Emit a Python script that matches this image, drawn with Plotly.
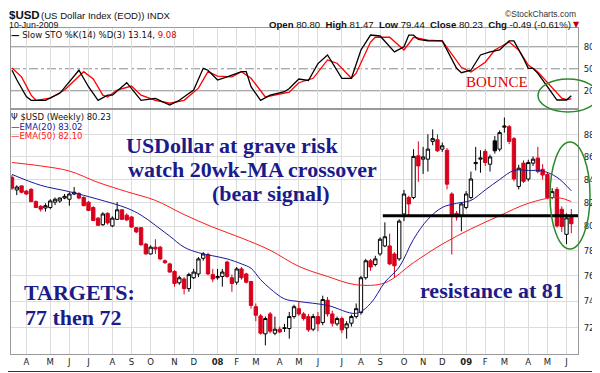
import plotly.graph_objects as go
import pandas as pd
import math

# ---------------- data (weekly $USD) ----------------
week_start = "2007-03-12"
n_weeks = 118

opens = [84.2, 83.1, 83.45, 83.0, 83.15, 82.1, 81.7, 81.55, 81.6, 82.05,
         82.15, 82.4, 82.3, 82.75, 82.8, 82.45, 82.05, 81.6, 80.7, 80.15,
         81.1, 80.05, 80.6, 81.4, 80.95, 80.8, 79.9, 79.9, 78.55, 77.75,
         78.3, 78.3, 77.2, 76.95, 76.35, 75.45, 75.75, 75.0, 75.85, 76.15,
         77.4, 77.7, 76.1, 75.85, 75.95, 77.1, 75.85, 75.5, 76.55, 76.15,
         75.55, 73.6, 72.9, 71.55, 73.05, 71.6, 71.9, 71.95, 71.95, 72.85,
         73.45, 73.05, 72.85, 71.9, 72.85, 72.4, 74.1, 73.05, 72.3, 72.7,
         72.0, 72.35, 72.85, 73.15, 75.85, 77.2, 76.9, 77.75, 78.4, 78.4,
         77.75, 77.35, 81.05, 82.45, 82.45, 86.1, 85.8, 85.8, 87.4, 87.55,
         86.7, 86.6, 82.75, 81.1, 80.9, 81.6, 82.45, 85.4, 85.8, 86.5,
         85.35, 87.45, 86.7, 88.7, 88.75, 87.65, 83.4, 85.45, 84.05, 85.45,
         85.9, 84.9, 84.45, 82.45, 83.15, 81.45, 79.35, 80.80]
highs = [84.4, 83.5, 83.5, 83.1, 83.25, 82.2, 81.8, 81.95, 82.3, 82.45,
         82.45, 82.75, 82.9, 83.35, 82.9, 82.55, 82.15, 81.7, 80.8, 81.2,
         81.2, 80.85, 82.05, 81.45, 81.1, 80.85, 79.95, 79.95, 78.65, 78.45,
         78.95, 78.4, 77.3, 77.05, 76.45, 76.0, 75.9, 76.25, 76.55, 77.5,
         77.9, 77.85, 76.55, 76.55, 76.55, 77.2, 76.1, 76.7, 76.7, 76.25,
         75.6, 73.85, 73.05, 72.85, 73.2, 72.85, 72.1, 72.3, 73.2, 73.75,
         73.95, 73.2, 73.05, 73.05, 73.2, 74.45, 74.35, 73.3, 72.85, 72.85,
         72.5, 73.0, 73.85, 76.0, 77.35, 77.35, 77.6, 79.1, 80.35, 79.4,
         77.9, 80.6, 83.1, 82.6, 86.7, 87.4, 86.9, 88.05, 88.5, 88.05,
         87.3, 86.8, 82.9, 81.3, 82.05, 83.0, 84.7, 86.9, 86.6, 86.7,
         86.2, 87.9, 88.4, 89.6, 88.9, 87.8, 85.3, 85.7, 85.75, 86.05,
         86.9, 85.35, 84.6, 83.25, 83.35, 81.7, 81.1, 81.47]
lows = [83.1, 82.65, 82.8, 82.65, 82.05, 81.55, 81.25, 81.25, 81.45, 81.8,
        82.0, 82.3, 81.75, 82.65, 82.3, 81.7, 81.3, 80.45, 80.05, 80.05,
        80.15, 79.95, 80.55, 80.55, 80.45, 79.9, 79.45, 78.4, 77.7, 77.7,
        77.75, 77.25, 76.95, 76.25, 75.15, 75.3, 74.55, 74.75, 75.75, 75.9,
        77.2, 76.05, 75.5, 75.7, 75.15, 75.85, 74.75, 75.3, 75.7, 75.4,
        73.45, 72.5, 71.5, 70.7, 71.6, 71.45, 71.6, 71.7, 71.2, 72.7,
        72.9, 72.55, 71.7, 71.75, 71.75, 72.2, 72.85, 72.1, 72.15, 71.6,
        71.2, 72.1, 72.7, 73.0, 75.7, 76.4, 76.75, 77.6, 78.3, 76.85,
        75.85, 77.2, 80.45, 80.8, 82.3, 83.8, 84.5, 84.7, 87.05, 86.45,
        86.45, 83.15, 77.7, 80.5, 79.6, 81.45, 82.3, 84.8, 84.6, 85.2,
        84.7, 86.3, 86.5, 88.2, 87.15, 83.85, 83.15, 83.7, 83.85, 85.2,
        84.55, 84.0, 82.3, 82.3, 79.9, 79.55, 78.55, 79.44]
closes = [83.25, 83.35, 82.9, 82.75, 82.1, 81.6, 81.45, 81.75, 82.15, 82.3,
          82.4, 82.55, 82.75, 82.9, 82.4, 81.75, 81.35, 80.5, 80.1, 81.05,
          80.3, 80.7, 81.4, 80.6, 80.55, 79.95, 79.55, 78.5, 77.75, 78.3,
          78.15, 77.35, 77.05, 76.3, 75.4, 75.85, 75.0, 76.1, 76.3, 77.35,
          77.75, 76.15, 75.75, 75.95, 76.3, 75.95, 75.4, 76.55, 75.85, 75.5,
          73.7, 72.95, 71.6, 72.7, 71.75, 71.9, 71.7, 72.0, 72.85, 73.6,
          73.05, 72.7, 71.85, 72.85, 72.3, 74.15, 73.05, 72.35, 72.7, 71.85,
          72.3, 72.85, 73.45, 75.85, 77.2, 76.7, 77.35, 78.95, 79.15, 76.95,
          76.8, 80.45, 82.75, 81.9, 86.05, 85.2, 86.0, 86.7, 87.65, 86.55,
          87.0, 83.6, 80.95, 80.8, 81.9, 82.75, 84.05, 85.5, 85.9, 85.5,
          86.0, 86.55, 88.2, 88.8, 87.4, 84.05, 85.0, 83.85, 85.5, 85.8,
          84.7, 84.4, 82.45, 82.95, 80.05, 80.0, 80.72, 80.23]

ema20_week = [0, 6, 12, 18, 24, 27, 30, 33, 36, 39, 42, 45, 48, 50, 52, 54, 57, 60,
              66, 72, 75, 78, 81, 84, 87, 90, 93, 96, 99, 102, 105, 108, 111, 114, 117]
ema20_vals = [84.45, 83.5, 82.95, 82.3, 81.55, 80.95, 80.1, 79.2, 78.3, 77.85, 77.6,
              77.35, 76.95, 76.6, 75.7, 75.0, 74.2, 74.0, 73.7, 73.1, 73.85, 75.5,
              76.7, 78.95, 80.6, 81.6, 81.95, 82.2, 83.1, 84.0, 84.8, 84.8, 84.75,
              84.2, 83.02]
ema50_week = [0, 6, 12, 18, 24, 30, 36, 42, 48, 54, 60, 66, 72, 78, 84, 90, 96, 102,
              108, 114, 117]
ema50_vals = [85.5, 85.2, 84.75, 83.75, 82.95, 82.2, 81.0, 79.95, 79.05, 78.05, 76.75,
              75.95, 75.3, 75.45, 77.05, 78.55, 79.8, 80.9, 81.95, 82.45, 82.1]

stoK_week = [0, 1, 3, 4, 7, 10, 14, 16, 18, 20, 21, 24, 27, 30, 33, 35, 38, 40, 41, 43,
             45, 48, 49, 50, 52, 54, 57, 58, 60, 62, 64, 66, 69, 71, 73, 75, 77, 80, 82,
             83, 84, 85, 87, 90, 93, 94, 96, 98, 100, 102, 104, 105, 107, 108, 109, 110,
             112, 114, 116, 117]
stoK_vals = [48, 35, 12, 7, 7, 16.5, 48, 25.5, 7, 14, 14, 31, 7, 9.7, 0.5, 7, 21, 50.6,
             48, 34.6, 39, 46, 46, 25.5, 7, 14, 18.7, 23, 36, 34, 57, 68.8, 37, 37,
             75.6, 96, 94.7, 73, 80, 96, 96, 90, 88, 88, 50.6, 44.6, 48, 68.8, 73,
             75.6, 88, 88, 64, 50.6, 50.6, 43.8, 25.5, 7.4, 7.4, 13.14]
stoD_week = [0, 2, 4, 5, 8, 11, 15, 17, 19, 20, 22, 25, 27, 30, 33, 36, 39, 41, 43, 46,
             48, 50, 53, 55, 58, 60, 63, 66, 68, 71, 72, 75, 76, 79, 82, 84, 87, 90, 94,
             96, 99, 101, 104, 106, 108, 110, 113, 115, 116, 117]
stoD_vals = [51, 39, 14, 7, 10, 21, 46, 36, 14, 11.5, 21, 26.5, 14, 7, 3, 7, 23.5, 46,
             40, 39, 46, 37, 11.5, 14, 18, 31, 37, 62, 57.6, 37, 44, 86.5, 93, 93, 75.6,
             93, 89, 88, 52, 45.5, 59, 75.6, 86.5, 75.6, 55, 45.5, 25, 10, 8, 9.08]

resistance_level = 80.9
resistance_from_week = 78

y_ticks = [72, 74, 76, 78, 80, 82, 84, 86, 88]
sto_ticks = [20, 50, 80]
month_labels = ["A", "M", "J", "J", "A", "S", "O", "N", "D", "<b>08</b>", "F", "M", "A",
                "M", "J", "J", "A", "S", "O", "N", "D", "<b>09</b>", "F", "M", "A", "M", "J"]

# ---------------- build ----------------
dates = list(pd.date_range(week_start, periods=n_weeks, freq="7D"))

month_pos = []
seen = set()
for d in dates:
    key = (d.year, d.month)
    if key not in seen:
        seen.add(key)
        if d >= pd.Timestamp("2007-04-01"):
            month_pos.append(d)
month_pos = month_pos[:len(month_labels)]

red_i, blk_i = [], []
for i in range(n_weeks):
    if i == 0 or closes[i] < closes[i - 1]:
        red_i.append(i)
    else:
        blk_i.append(i)

RED = "#d9001b"
NAVY = "#1b1b8a"
GRID = "#dcdcdc"


def candle(idx, col):
    return go.Candlestick(
        x=[dates[i] for i in idx], open=[opens[i] for i in idx],
        high=[highs[i] for i in idx], low=[lows[i] for i in idx],
        close=[closes[i] for i in idx],
        increasing=dict(line=dict(color=col, width=1), fillcolor="white"),
        decreasing=dict(line=dict(color=col, width=1), fillcolor=col),
        whiskerwidth=0, showlegend=False, hoverinfo="skip",
        xaxis="x", yaxis="y")


fig = go.Figure()
fig.add_trace(go.Scatter(x=[dates[i] for i in ema50_week], y=ema50_vals, mode="lines",
                         line=dict(color="#ff1a1a", width=1, shape="spline"),
                         showlegend=False, hoverinfo="skip", xaxis="x", yaxis="y"))
fig.add_trace(go.Scatter(x=[dates[i] for i in ema20_week], y=ema20_vals, mode="lines",
                         line=dict(color="#1a1a99", width=1, shape="spline"),
                         showlegend=False, hoverinfo="skip", xaxis="x", yaxis="y"))
fig.add_trace(candle(blk_i, "#000000"))
fig.add_trace(candle(red_i, RED))

x0 = dates[0] + pd.Timedelta(days=-0.21 * 7)
x1 = dates[0] + pd.Timedelta(days=118.4 * 7)
fig.add_trace(go.Scatter(x=[dates[resistance_from_week] - pd.Timedelta(days=3), x1],
                         y=[resistance_level, resistance_level], mode="lines",
                         line=dict(color="black", width=3), showlegend=False,
                         hoverinfo="skip", xaxis="x", yaxis="y"))

fig.add_trace(go.Scatter(x=[dates[i] for i in stoD_week], y=stoD_vals, mode="lines",
                         line=dict(color="#ff0000", width=1.3), showlegend=False,
                         hoverinfo="skip", xaxis="x2", yaxis="y2"))
fig.add_trace(go.Scatter(x=[dates[i] for i in stoK_week], y=stoK_vals, mode="lines",
                         line=dict(color="#000000", width=1.3), showlegend=False,
                         hoverinfo="skip", xaxis="x2", yaxis="y2"))

# The page puts the figure 8px in from the top-left corner; work in page pixels.
OFF = 8
W, H = 600, 373
PL, PR, PT, PB = 11, 578, 28, 354          # plot area, page pixels
L, T = PL - OFF, PT - OFF
R, B = W - (PR - OFF), H - (PB - OFF)
PW, PH = PR - PL, PB - PT


def px(x):
    return (x - PL) / PW


def py(y):
    return (PB - y) / PH


main_top = py(110)
sto_bot = py(108)

axis_common = dict(showline=True, linecolor="#9a9a9a", linewidth=1, mirror=True,
                   showgrid=True, gridcolor=GRID, gridwidth=1, zeroline=False, ticks="")

fig.update_layout(
    width=W, height=H, margin=dict(l=L, r=R, t=T, b=B),
    paper_bgcolor="white", plot_bgcolor="white",
    font=dict(family="DejaVu Sans", size=9, color="#222"),
    showlegend=False, boxgap=0.0, boxgroupgap=0.3,
    xaxis=dict(axis_common, type="date", range=[x0, x1], anchor="y", domain=[0, 1],
               tickmode="array", tickvals=month_pos, ticktext=month_labels,
               tickfont=dict(family="DejaVu Sans", size=8.5, color="#222"),
               rangeslider=dict(visible=False)),
    xaxis2=dict(axis_common, type="date", range=[x0, x1], anchor="y2", domain=[0, 1],
                matches="x", tickmode="array", tickvals=month_pos, showticklabels=False,
                rangeslider=dict(visible=False)),
    yaxis=dict(axis_common, type="log", domain=[0, main_top], anchor="x", side="right",
               range=[math.log10(70.07), math.log10(90.3)], tickmode="array",
               tickvals=y_ticks, ticktext=[str(v) for v in y_ticks], ticklabelstandoff=3,
               tickfont=dict(family="DejaVu Sans", size=8.5, color="#222")),
    yaxis2=dict(axis_common, domain=[sto_bot, 1], anchor="x2", side="right",
                range=[-3.5, 105.6], tickmode="array", tickvals=sto_ticks,
                showgrid=False, ticklabelstandoff=3,
                tickfont=dict(family="DejaVu Sans", size=8.5, color="#222")),
)

shapes = []
for lv, dash in [(80, "solid"), (50, "dashdot"), (20, "solid")]:
    shapes.append(dict(type="line", xref="x2 domain", yref="y2", x0=0, x1=1, y0=lv, y1=lv,
                       line=dict(color="#8c8c8c", width=1, dash=dash), layer="below"))
shapes.append(dict(type="circle", xref="paper", yref="paper", x0=px(538), x1=px(598),
                   y0=py(112), y1=py(79), line=dict(color="#2a8a2a", width=1.5)))
shapes.append(dict(type="circle", xref="paper", yref="paper", x0=px(550), x1=px(590),
                   y0=py(249), y1=py(142), line=dict(color="#2a8a2a", width=1.5)))
shapes.append(dict(type="rect", xref="paper", yref="paper", x0=px(1), x1=px(598.5),
                   y0=py(371.5), y1=py(1), line=dict(color="#333", width=1.2)))
fig.update_layout(shapes=shapes)

ann = []


def txt(x, y, s, size=9, family="DejaVu Sans", color="#111", xa="left", ya="middle"):
    ann.append(dict(x=px(x), y=py(y), xref="paper", yref="paper", text=s, showarrow=False,
                    xanchor=xa, yanchor=ya, borderpad=0, borderwidth=0,
                    font=dict(size=size, family=family, color=color)))


SANS = "Liberation Sans"
txt(9, 14.8, "<b>$USD</b>", size=11.5, family=SANS)
txt(41, 15.0, "(US Dollar Index (EOD)) INDX", size=9.6, family=SANS)
txt(9, 25.5, "10-Jun-2009", size=8.8, family=SANS)
txt(540, 13.8, "\u00a9StockCharts.com", size=8.5, family=SANS, color="#333", xa="center")
txt(419.5, 24, "<b>Open</b> 80.80  <b>High</b> 81.47  <b>Low</b> 79.44  <b>Close</b> 80.23  "
               "<b>Chg</b> -0.49 (-0.61%)", size=9.6, family=SANS, xa="center")
txt(576, 24, "\u25bc", size=8, color="#c00000", xa="center")
txt(11, 35, "<b>\u2014</b> Slow STO %K(14) %D(3) 13.14, <span style='color:#e00000'>9.08</span>",
    size=8.5)
txt(11, 117.5, "\u03a8 $USD (Weekly) 80.23", size=8.5)
txt(11, 126.5, "<span style='color:#1a1a99'>\u2014EMA(20) 83.02</span>", size=8.5)
txt(11, 135.5, "<span style='color:#ff1a1a'>\u2014EMA(50) 82.10</span>", size=8.5)

SERIF = "Liberation Serif"
txt(232, 145, "<b>USDollar at grave risk</b>", size=22, family=SERIF, color=NAVY, xa="center")
txt(252, 169.5, "<b>watch 20wk-MA crossover</b>", size=22, family=SERIF, color=NAVY, xa="center")
txt(271, 194, "<b>(bear signal)</b>", size=22, family=SERIF, color=NAVY, xa="center")
txt(79.5, 292, "<b>TARGETS:</b>", size=22, family=SERIF, color=NAVY, xa="center")
txt(73.5, 317.5, "<b>77 then 72</b>", size=22, family=SERIF, color=NAVY, xa="center")
txt(491.5, 290, "<b>resistance at 81</b>", size=22, family=SERIF, color=NAVY, xa="center")
txt(497, 82, "BOUNCE", size=15, family=SERIF, color="#e00000", xa="center")

fig.update_layout(annotations=ann)
fig.write_html("out.html")
